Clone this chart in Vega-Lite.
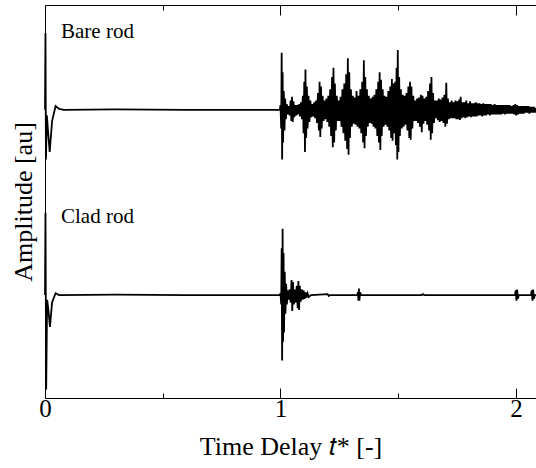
{
"$schema": "https://vega.github.io/schema/vega-lite/v6.json",
"width": 491, "height": 393,
"autosize": {"type": "none"},
"padding": {"left": 45, "top": 5, "right": 0, "bottom": 70},
"config": {"view": {"stroke": null}, "font": "Liberation Serif"},
"datasets": {
"bare": [
{"t":0,"a":2.98},{"t":0.002,"a":3.8},{"t":0.004,"a":2.45},{"t":0.008,"a":2.92},{"t":0.012,"a":2.78},{"t":0.02,"a":2.53},{"t":0.03,"a":2.86},{"t":0.045,"a":3.02},{"t":0.06,"a":2.99},{"t":0.08,"a":2.98},{"t":0.3,"a":2.985},{"t":0.6,"a":2.98},{"t":0.997,"a":2.98},
{"t":1.000,"a":3.03},{"t":1.003,"a":2.78},{"t":1.005,"a":3.59},{"t":1.007,"a":2.45},{"t":1.009,"a":3.38},{"t":1.011,"a":2.63},{"t":1.014,"a":3.18},{"t":1.017,"a":2.76},{"t":1.020,"a":3.10},{"t":1.023,"a":2.88},{"t":1.027,"a":3.04},{"t":1.031,"a":2.93},{"t":1.035,"a":3.02},{"t":1.039,"a":2.92},{"t":1.043,"a":3.08},{"t":1.046,"a":2.86},{"t":1.049,"a":3.12},{"t":1.052,"a":2.85},{"t":1.055,"a":3.07},{"t":1.059,"a":2.90},{"t":1.063,"a":3.03},{"t":1.067,"a":2.92},{"t":1.071,"a":3.03},{"t":1.075,"a":2.93},{"t":1.079,"a":3.04},{"t":1.083,"a":2.91},{"t":1.087,"a":3.06},{"t":1.091,"a":2.88},{"t":1.095,"a":3.13},{"t":1.098,"a":2.73},{"t":1.101,"a":3.28},{"t":1.104,"a":2.53},{"t":1.106,"a":3.41},{"t":1.109,"a":2.68},{"t":1.112,"a":3.23},{"t":1.115,"a":2.78},{"t":1.119,"a":3.13},{"t":1.123,"a":2.85},{"t":1.127,"a":3.08},{"t":1.131,"a":2.90},{"t":1.135,"a":3.04},{"t":1.139,"a":2.91},{"t":1.143,"a":3.06},{"t":1.147,"a":2.89},{"t":1.151,"a":3.08},{"t":1.155,"a":2.84},{"t":1.159,"a":3.16},{"t":1.163,"a":2.76},{"t":1.166,"a":3.28},{"t":1.169,"a":2.69},{"t":1.172,"a":3.23},{"t":1.175,"a":2.78},{"t":1.179,"a":3.13},{"t":1.183,"a":2.86},{"t":1.187,"a":3.08},{"t":1.191,"a":2.88},{"t":1.195,"a":3.10},{"t":1.199,"a":2.85},{"t":1.203,"a":3.13},{"t":1.207,"a":2.80},{"t":1.211,"a":3.20},{"t":1.215,"a":2.70},{"t":1.219,"a":3.33},{"t":1.222,"a":2.58},{"t":1.225,"a":3.43},{"t":1.228,"a":2.63},{"t":1.231,"a":3.26},{"t":1.235,"a":2.76},{"t":1.239,"a":3.13},{"t":1.243,"a":2.86},{"t":1.247,"a":3.08},{"t":1.251,"a":2.86},{"t":1.255,"a":3.12},{"t":1.259,"a":2.80},{"t":1.263,"a":3.20},{"t":1.267,"a":2.73},{"t":1.271,"a":3.26},{"t":1.275,"a":2.65},{"t":1.279,"a":3.36},{"t":1.283,"a":2.56},{"t":1.286,"a":3.53},{"t":1.289,"a":2.50},{"t":1.292,"a":3.38},{"t":1.295,"a":2.68},{"t":1.299,"a":3.20},{"t":1.303,"a":2.80},{"t":1.307,"a":3.13},{"t":1.311,"a":2.83},{"t":1.315,"a":3.11},{"t":1.319,"a":2.82},{"t":1.323,"a":3.18},{"t":1.327,"a":2.80},{"t":1.331,"a":3.13},{"t":1.335,"a":2.78},{"t":1.339,"a":3.20},{"t":1.343,"a":2.73},{"t":1.347,"a":3.28},{"t":1.351,"a":2.63},{"t":1.354,"a":3.51},{"t":1.357,"a":2.57},{"t":1.360,"a":3.33},{"t":1.363,"a":2.70},{"t":1.367,"a":3.20},{"t":1.371,"a":2.80},{"t":1.375,"a":3.13},{"t":1.379,"a":2.84},{"t":1.383,"a":3.10},{"t":1.387,"a":2.83},{"t":1.391,"a":3.12},{"t":1.395,"a":2.80},{"t":1.399,"a":3.14},{"t":1.403,"a":2.78},{"t":1.407,"a":3.20},{"t":1.411,"a":2.70},{"t":1.415,"a":3.28},{"t":1.418,"a":2.63},{"t":1.421,"a":3.38},{"t":1.424,"a":2.55},{"t":1.427,"a":3.30},{"t":1.430,"a":2.70},{"t":1.434,"a":3.20},{"t":1.438,"a":2.80},{"t":1.442,"a":3.13},{"t":1.446,"a":2.82},{"t":1.450,"a":3.12},{"t":1.454,"a":2.80},{"t":1.458,"a":3.18},{"t":1.462,"a":2.76},{"t":1.466,"a":3.23},{"t":1.470,"a":2.68},{"t":1.473,"a":3.31},{"t":1.476,"a":2.65},{"t":1.479,"a":3.26},{"t":1.483,"a":2.73},{"t":1.487,"a":3.28},{"t":1.490,"a":2.60},{"t":1.493,"a":3.43},{"t":1.496,"a":2.45},{"t":1.498,"a":3.62},{"t":1.501,"a":2.53},{"t":1.504,"a":3.33},{"t":1.507,"a":2.70},{"t":1.511,"a":3.20},{"t":1.515,"a":2.78},{"t":1.519,"a":3.14},{"t":1.523,"a":2.80},{"t":1.527,"a":3.13},{"t":1.531,"a":2.82},{"t":1.535,"a":3.16},{"t":1.539,"a":2.76},{"t":1.543,"a":3.23},{"t":1.547,"a":2.68},{"t":1.550,"a":3.28},{"t":1.553,"a":2.66},{"t":1.556,"a":3.23},{"t":1.560,"a":2.78},{"t":1.564,"a":3.13},{"t":1.568,"a":2.86},{"t":1.572,"a":3.08},{"t":1.576,"a":2.86},{"t":1.580,"a":3.10},{"t":1.584,"a":2.84},{"t":1.588,"a":3.11},{"t":1.592,"a":2.80},{"t":1.596,"a":3.14},{"t":1.600,"a":2.74},{"t":1.603,"a":3.13},{"t":1.607,"a":2.83},{"t":1.611,"a":3.10},{"t":1.615,"a":2.86},{"t":1.619,"a":3.12},{"t":1.623,"a":2.82},{"t":1.627,"a":3.18},{"t":1.631,"a":2.76},{"t":1.635,"a":3.26},{"t":1.638,"a":2.66},{"t":1.641,"a":3.33},{"t":1.644,"a":2.73},{"t":1.648,"a":3.16},{"t":1.652,"a":2.84},{"t":1.656,"a":3.08},{"t":1.660,"a":2.89},{"t":1.664,"a":3.08},{"t":1.668,"a":2.87},{"t":1.672,"a":3.10},{"t":1.676,"a":2.85},{"t":1.680,"a":3.09},{"t":1.684,"a":2.86},{"t":1.688,"a":3.11},{"t":1.692,"a":2.84},{"t":1.696,"a":3.14},{"t":1.700,"a":2.80},{"t":1.704,"a":3.27},{"t":1.707,"a":2.83},{"t":1.711,"a":3.10},{"t":1.715,"a":2.88},{"t":1.719,"a":3.06},{"t":1.723,"a":2.89},{"t":1.727,"a":3.08},{"t":1.731,"a":2.89},{"t":1.735,"a":3.06},{"t":1.739,"a":2.89},{"t":1.743,"a":3.08},{"t":1.747,"a":2.88},{"t":1.751,"a":3.07},{"t":1.755,"a":2.88},{"t":1.759,"a":3.09},{"t":1.762,"a":2.87},{"t":1.765,"a":3.12},{"t":1.769,"a":2.89},{"t":1.773,"a":3.06},{"t":1.777,"a":2.90},{"t":1.781,"a":3.06},{"t":1.785,"a":2.89},{"t":1.789,"a":3.08},{"t":1.793,"a":2.90},{"t":1.797,"a":3.05},{"t":1.801,"a":2.91},{"t":1.805,"a":3.07},{"t":1.809,"a":2.90},{"t":1.813,"a":3.05},{"t":1.817,"a":2.91},{"t":1.821,"a":3.05},{"t":1.825,"a":2.91},{"t":1.829,"a":3.06},{"t":1.833,"a":2.91},{"t":1.837,"a":3.05},{"t":1.841,"a":2.92},{"t":1.845,"a":3.05},{"t":1.849,"a":2.92},{"t":1.853,"a":3.04},{"t":1.857,"a":2.91},{"t":1.861,"a":3.05},{"t":1.865,"a":2.92},{"t":1.869,"a":3.04},{"t":1.873,"a":2.92},{"t":1.877,"a":3.04},{"t":1.881,"a":2.93},{"t":1.885,"a":3.04},{"t":1.889,"a":2.92},{"t":1.893,"a":3.04},{"t":1.897,"a":2.93},{"t":1.901,"a":3.03},{"t":1.905,"a":2.93},{"t":1.909,"a":3.04},{"t":1.913,"a":2.93},{"t":1.917,"a":3.03},{"t":1.921,"a":2.93},{"t":1.925,"a":3.03},{"t":1.929,"a":2.93},{"t":1.933,"a":3.03},{"t":1.937,"a":2.93},{"t":1.941,"a":3.03},{"t":1.945,"a":2.94},{"t":1.949,"a":3.03},{"t":1.953,"a":2.93},{"t":1.957,"a":3.03},{"t":1.961,"a":2.94},{"t":1.965,"a":3.03},{"t":1.969,"a":2.94},{"t":1.973,"a":3.03},{"t":1.977,"a":2.94},{"t":1.981,"a":3.02},{"t":1.985,"a":2.94},{"t":1.989,"a":3.03},{"t":1.993,"a":2.93},{"t":1.997,"a":3.04},{"t":2.001,"a":2.92},{"t":2.005,"a":3.03},{"t":2.009,"a":2.93},{"t":2.013,"a":3.02},{"t":2.017,"a":2.94},{"t":2.021,"a":3.02},{"t":2.025,"a":2.94},{"t":2.029,"a":3.02},{"t":2.033,"a":2.94},{"t":2.037,"a":3.02},{"t":2.041,"a":2.95},{"t":2.045,"a":3.02},{"t":2.049,"a":2.95},{"t":2.053,"a":3.02},{"t":2.057,"a":2.94},{"t":2.061,"a":3.01},{"t":2.065,"a":2.95},{"t":2.069,"a":3.01},{"t":2.073,"a":2.95},{"t":2.077,"a":3.01},{"t":2.081,"a":2.95},{"t":2.085,"a":3.00}
],
"clad": [
{"t":0,"a":1.0},{"t":0.002,"a":1.88},{"t":0.005,"a":-0.01},{"t":0.009,"a":0.95},{"t":0.014,"a":0.85},{"t":0.021,"a":0.66},{"t":0.03,"a":0.92},{"t":0.045,"a":1.02},{"t":0.06,"a":1.0},{"t":0.3,"a":1.005},{"t":0.6,"a":1.0},{"t":0.997,"a":1.0},
{"t":1.000,"a":1.02},{"t":1.003,"a":0.90},{"t":1.005,"a":1.50},{"t":1.007,"a":0.30},{"t":1.009,"a":1.71},{"t":1.011,"a":0.50},{"t":1.013,"a":1.45},{"t":1.015,"a":0.60},{"t":1.018,"a":1.25},{"t":1.021,"a":0.80},{"t":1.024,"a":1.12},{"t":1.027,"a":0.90},{"t":1.031,"a":1.05},{"t":1.035,"a":0.95},{"t":1.039,"a":1.06},{"t":1.043,"a":0.92},{"t":1.047,"a":1.16},{"t":1.050,"a":0.83},{"t":1.053,"a":1.14},{"t":1.057,"a":0.90},{"t":1.061,"a":1.06},{"t":1.065,"a":0.92},{"t":1.069,"a":1.10},{"t":1.073,"a":0.86},{"t":1.076,"a":1.15},{"t":1.079,"a":0.84},{"t":1.082,"a":1.10},{"t":1.086,"a":0.93},{"t":1.090,"a":1.06},{"t":1.094,"a":0.95},{"t":1.098,"a":1.05},{"t":1.102,"a":0.96},{"t":1.106,"a":1.03},{"t":1.110,"a":0.97},{"t":1.115,"a":1.02},{"t":1.120,"a":0.98},{"t":1.13,"a":1.0},{"t":1.2,"a":1.01},{"t":1.205,"a":0.99},{"t":1.21,"a":1.0},{"t":1.326,"a":1.0},{"t":1.329,"a":1.03},{"t":1.331,"a":0.94},{"t":1.333,"a":1.07},{"t":1.335,"a":0.94},{"t":1.338,"a":1.03},{"t":1.342,"a":1.0},{"t":1.6,"a":1.0},{"t":1.605,"a":1.01},{"t":1.61,"a":1.0},{"t":1.996,"a":1.0},{"t":1.999,"a":1.05},{"t":2.002,"a":0.94},{"t":2.005,"a":1.06},{"t":2.008,"a":0.96},{"t":2.012,"a":1.0},{"t":2.064,"a":1.0},{"t":2.067,"a":1.05},{"t":2.070,"a":0.94},{"t":2.073,"a":1.06},{"t":2.076,"a":0.96},{"t":2.08,"a":1.0},{"t":2.085,"a":1.0}
],
"labels": [
{"t":0.068,"a":3.747,"label":"Bare rod"},
{"t":0.068,"a":1.77,"label":"Clad rod"}
]
},
"resolve": {"axis": {"x": "independent"}},
"layer": [
{
"data": {"name": "bare"},
"mark": {"type": "line", "color": "black", "strokeWidth": 1.8},
"encoding": {
"x": {"field": "t", "type": "quantitative", "scale": {"domain": [0, 2.085], "nice": false, "zero": false},
"axis": {"orient": "bottom", "values": [0, 0.5, 1, 1.5, 2], "grid": false,
"tickSize": -10, "tickColor": "black", "tickWidth": 1, "domainColor": "black",
"tickDash": {"condition": {"test": "datum.value % 1 !== 0", "value": [5, 30]}, "value": [20, 0]},
"labelExpr": "datum.value % 1 === 0 ? format(datum.value, 'd') : ''",
"labelFlush": false, "labelOverlap": false,
"labelFont": "Liberation Serif", "labelFontSize": 25, "labelColor": "black", "labelPadding": 8,
"title": "Time Delay 𝑡* [-]", "titleFont": "Liberation Serif", "titleFontSize": 26, "titleFontWeight": "normal", "titleColor": "black", "titlePadding": 12}},
"y": {"field": "a", "type": "quantitative", "scale": {"domain": [-0.1, 4.1], "nice": false, "zero": false},
"axis": {"orient": "left", "labels": false, "ticks": false, "grid": false, "domainColor": "black",
"title": "Amplitude [au]", "titleFont": "Liberation Serif", "titleFontSize": 26, "titleFontWeight": "normal", "titleColor": "black", "titlePadding": 9}}
}
},
{
"data": {"name": "clad"},
"mark": {"type": "line", "color": "black", "strokeWidth": 1.8},
"encoding": {
"x": {"field": "t", "type": "quantitative",
"axis": {"orient": "top", "values": [0, 0.5, 1, 1.5, 2], "grid": false, "labels": false,
"tickSize": -10, "tickColor": "black", "tickWidth": 1, "domainColor": "black",
"tickDash": {"condition": {"test": "datum.value % 1 !== 0", "value": [5, 30]}, "value": [20, 0]},
"title": null}},
"y": {"field": "a", "type": "quantitative",
"axis": {"orient": "left", "labels": false, "ticks": false, "grid": false, "domainColor": "black",
"title": "Amplitude [au]", "titleFont": "Liberation Serif", "titleFontSize": 26, "titleFontWeight": "normal", "titleColor": "black", "titlePadding": 9}}
}
},
{
"data": {"name": "labels"},
"mark": {"type": "text", "font": "Liberation Serif", "fontSize": 21, "align": "left", "baseline": "alphabetic", "color": "black"},
"encoding": {
"x": {"field": "t", "type": "quantitative", "axis": null},
"y": {"field": "a", "type": "quantitative",
"axis": {"orient": "left", "labels": false, "ticks": false, "grid": false, "domainColor": "black",
"title": "Amplitude [au]", "titleFont": "Liberation Serif", "titleFontSize": 26, "titleFontWeight": "normal", "titleColor": "black", "titlePadding": 9}},
"text": {"field": "label"}
}
}
]
}
